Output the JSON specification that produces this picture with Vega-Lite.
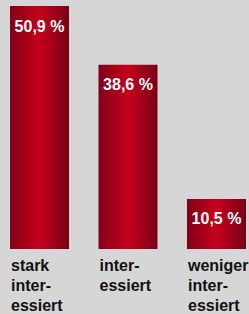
{
  "$schema": "https://vega.github.io/schema/vega-lite/v6.json",
  "width": 249,
  "height": 249,
  "autosize": "none",
  "padding": {"left": 0, "top": 0, "right": 0, "bottom": 65},
  "background": "#d6d6d6",
  "config": {
    "view": {"stroke": null},
    "locale": {"number": {"decimal": ",", "thousands": ".", "grouping": [3], "currency": ["", " €"], "percent": " %"}},
    "font": "Liberation Sans"
  },
  "data": {"values": [
    {"kategorie": "stark inter-\nessiert", "anteil": 0.509},
    {"kategorie": "inter-\nessiert", "anteil": 0.386},
    {"kategorie": "weniger inter-\nessiert", "anteil": 0.105}
  ]},
  "encoding": {
    "x": {
      "field": "kategorie", "type": "nominal", "sort": null,
      "scale": {"range": [10, 246], "paddingInner": 0.333, "paddingOuter": 0},
      "axis": {
        "title": null, "ticks": false, "domain": false, "labelAngle": 0,
        "labelAlign": "left", "labelFont": "Liberation Sans",
        "labelFontSize": 16, "labelFontWeight": "bold", "labelColor": "#111111",
        "labelBaseline": "alphabetic", "labelPadding": 21, "labelLineHeight": 20,
        "labelExpr": "split(replace(datum.label, ' ', '\\n'), '\\n')", "labelOffset": -28.5,
        "labelOverlap": false, "labelBound": false, "labelFlush": false
      }
    },
    "y": {
      "field": "anteil", "type": "quantitative",
      "scale": {"domain": [0, 0.5216], "nice": false},
      "axis": null
    }
  },
  "layer": [
    {
      "mark": {
        "type": "bar",
        "color": {
          "gradient": "linear", "x1": 0, "x2": 1, "y1": 0, "y2": 0,
          "stops": [
            {"offset": 0, "color": "#820019"},
            {"offset": 0.5, "color": "#c5001c"},
            {"offset": 1, "color": "#780017"}
          ]
        }
      }
    },
    {
      "mark": {"type": "text", "color": "white", "fontWeight": "bold", "fontSize": 16, "baseline": "alphabetic", "dy": 25.5, "align": "center"},
      "encoding": {"text": {"field": "anteil", "type": "quantitative", "format": ".1%"}}
    }
  ]
}
